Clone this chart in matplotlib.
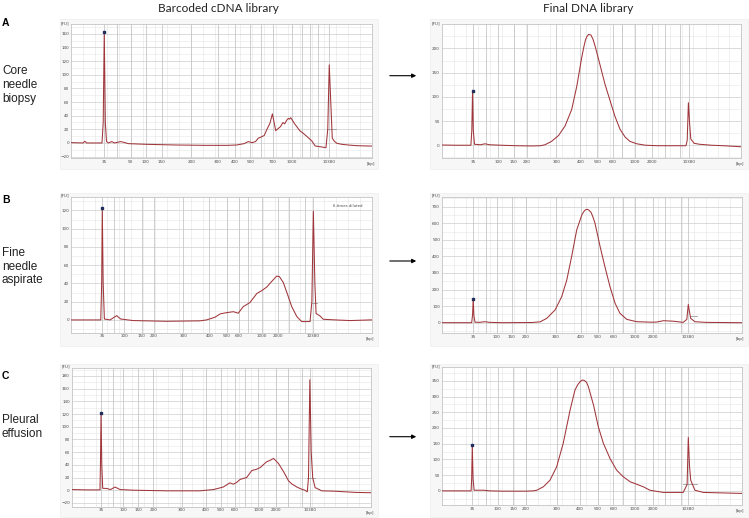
import matplotlib
matplotlib.use("Agg")
import matplotlib.pyplot as plt
from matplotlib.patches import Rectangle, FancyArrowPatch

W, H = 749, 518

# ---- data (x = migration, 0-100 across plot; y = FU) ----
LADDER_A = ["35", "50", "100", "150", "200", "300", "400", "500", "700", "1000", "10380"]
LADDER_BC = ["35", "100", "150", "200", "300", "400", "500", "600", "1000", "2000", "10380"]

CNB_CDNA_TICKS = [11.0, 19.8, 24.9, 30.1, 40.0, 48.8, 54.5, 59.6, 67.1, 73.4, 85.7]
CNB_LIB_TICKS = [10.5, 18.9, 24.1, 28.4, 38.3, 46.3, 51.9, 57.2, 64.4, 70.3, 82.5]
FNA_CDNA_TICKS = [10.4, 17.7, 23.5, 27.6, 37.4, 46.0, 51.8, 55.9, 63.4, 68.7, 80.6]
FNA_LIB_TICKS = [10.5, 18.3, 23.3, 28.0, 38.0, 46.4, 52.0, 57.2, 64.4, 70.5, 82.2]
PE_CDNA_TICKS = [9.8, 17.3, 22.3, 27.3, 36.7, 44.8, 49.7, 54.5, 62.3, 68.2, 79.5]
PE_LIB_TICKS = [10.2, 18.7, 23.9, 28.1, 38.3, 46.1, 52.0, 57.2, 64.4, 70.5, 82.2]

# unlabelled ladder peaks (75, 600/700, 2000/3000, 7000) -> darker grid lines
CNB_CDNA_EXTRA = [15.2, 63.1, 76.9, 79.5, 82.0]
CNB_LIB_EXTRA = [14.8, 60.3, 74.5, 79.6]
FNA_CDNA_EXTRA = [14.2, 59.0, 72.5, 77.8]
FNA_LIB_EXTRA = [14.8, 60.3, 74.5, 79.6]
PE_CDNA_EXTRA = [13.8, 57.8, 72.0, 76.8]
PE_LIB_EXTRA = [14.8, 60.3, 74.5, 79.6]

CNB_CDNA_X = [0, 4, 4.6, 5.2, 8, 10.3, 10.7, 11.05, 11.4, 11.8, 12.5, 13.5, 14.5, 16.5, 17.5,
              19, 25, 35, 45, 52, 55, 57.5, 58.9, 60.2, 61.3, 62.2, 63.3, 64.2, 65.0, 66.1,
              66.9, 67.4, 68.0, 68.8, 69.6, 70.4, 71.0, 71.6, 72.2, 72.6, 73.0, 73.6, 74.3,
              75.0, 76.0, 77.2, 78.5, 80.0, 81.1, 83.5, 84.7, 85.3, 85.8, 86.3, 86.8, 87.4,
              88.3, 90, 92.1, 95, 99.3, 100]
CNB_CDNA_Y = [0.5, 0, 2.5, 0, 0, 0, 30, 163, 30, 2, 0, 2, 0, 2, 1,
              -1, -2, -3, -3.5, -3.5, -3, -1, 2, 0.5, 2, 7, 9, 11, 19, 29,
              42.6, 32, 18, 21, 24, 30, 28, 33, 36, 35, 37, 33, 28,
              24, 18, 14, 9, 3, -4.4, -6, -7, 20, 114.5, 60, 7, 3,
              -0.5, -2, -3, -4, -4.5, -4.5]

CNB_LIB_X = [0, 5, 9.8, 10.1, 10.35, 10.6, 11.0, 13, 14.5, 16, 20, 25, 30, 33, 34.5, 36.7,
             39.0, 41.2, 43.4, 45.1, 46.7, 47.4, 48.0, 48.5, 49.0, 49.8, 50.5, 51.2, 52.8,
             54.5, 56.2, 57.8, 59.5, 61.2, 62.8, 65.1, 68, 72, 78, 81.5, 81.9, 82.3, 82.7,
             83.1, 84.2, 86, 90, 94, 99.5, 100]
CNB_LIB_Y = [0.5, 0, 0, 30, 112, 30, 2, 1, 3, 1, 0, -1, -1.5, -1, 1, 8,
             20, 40, 74, 122, 180, 202, 218, 225, 229, 228, 219, 205, 167,
             126, 92, 60, 33, 17, 8, 3, 0, -1, -1, -1, 10, 88, 45,
             13, 4, 2, 0, -1, -3, -3]

FNA_CDNA_X = [0, 5, 9.9, 10.2, 10.4, 10.7, 11.1, 13, 15.2, 16.5, 20.7, 31.8, 42.9, 45.1,
              47.9, 49.6, 51.8, 54.0, 55.0, 55.6, 57.3, 59.5, 61.8, 63.4, 65.1, 66.7, 68.4,
              69.3, 70.6, 71.9, 73.4, 75.1, 76.7, 79.5, 80.1, 80.6, 81.1, 81.5, 82.8, 83.9,
              88, 92.8, 99.4, 100]
FNA_CDNA_Y = [0, 0, 0, 40, 123, 40, 1, 0, 4.7, 1, -0.7, -1.5, -1, 0,
              3, 6.6, 8, 9, 8, 7.3, 14.6, 19, 29, 32, 36, 42, 48,
              47.5, 41, 29, 14.6, 3.7, -1.8, -1.8, 20, 119, 40, 7, 4.4, 0.7,
              0, -0.7, 0, 0]

FNA_LIB_X = [0, 5, 10.0, 10.3, 10.5, 10.75, 11.1, 12.5, 14.4, 16, 20, 30, 32.8, 35.0, 37.8,
             40.0, 41.7, 43.3, 45.0, 46.7, 47.4, 48.0, 48.5, 49.0, 49.8, 50.4, 51.1, 52.8,
             54.4, 56.1, 57.8, 59.4, 61.7, 65.0, 70, 71.7, 73.9, 77.2, 80.5, 81.7, 82.2,
             82.6, 83.0, 84.4, 88, 99.4, 100]
FNA_LIB_Y = [0, 0, 0, 50, 145, 40, 3, 2, 6, 2, 0, 1, 5, 26, 77,
             157, 258, 398, 559, 650, 671, 682, 684, 680, 665, 638, 600, 459,
             338, 217, 117, 57, 20, 6, 3, 4, 12, 9, 2, 20, 110,
             65, 26, 6, 2, 0, 0]

PE_CDNA_X = [0, 5, 9.5, 9.65, 9.85, 10.1, 10.4, 11.7, 13, 14.5, 16.2, 20.6, 31.7, 42.8, 47.3,
             50.6, 52.8, 53.9, 55.0, 56.2, 58.4, 60.1, 61.7, 63.0, 63.9, 65.1, 66.2, 67.3,
             67.8, 69.0, 70.2, 71.2, 72.3, 73.4, 75.1, 76.5, 77.8, 78.6, 79.0, 79.45, 79.9,
             80.4, 81.2, 81.7, 83.4, 87.3, 95, 99.8, 100]
PE_CDNA_Y = [1, 0.5, 0.5, 40, 122, 40, 3, 2.7, 1, 5, 1, 0, -1, -1, 1,
             5, 11.6, 9.5, 12, 17, 20, 31, 33, 36, 40, 45, 47, 50,
             48, 42, 33, 25, 15, 10, 5, 2, 0, -2.6, 20, 174, 60,
             20, 4, 3, -1, -1.5, -3.5, -4, -4]

PE_LIB_X = [0, 5, 9.8, 10.0, 10.2, 10.45, 10.8, 12, 13.9, 16, 20.5, 28, 30.5, 31.7, 33.9,
            36.1, 38.3, 40.5, 42.8, 44.4, 45.3, 46.1, 46.8, 47.4, 48.3, 48.9, 50.6, 52.2,
            53.9, 56.1, 58.3, 60.5, 62.8, 65.0, 67.2, 69.4, 73.9, 80.5, 81.8, 82.2, 82.6,
            83.0, 84.4, 87.2, 99.4, 100]
PE_LIB_Y = [0, 0, 0, 40, 145, 40, 2, 2, 2, 0, -1, -1, 0, 2, 13,
            34, 76, 151, 257, 320, 337, 347, 352, 352, 345, 331, 273, 204,
            151, 103, 66, 45, 29, 21, 13, 2, -5, -5, 20, 170, 80,
            34, 2, -5, -8, -8]

# short grey baseline markers drawn by the instrument at the upper marker
CNB_CDNA_MARK = ([84.9, 88.2], [20, 20])
FNA_CDNA_MARK = ([80.0, 81.9], [18, 18])
FNA_LIB_MARK = ([82.8, 85.0], [42, 42])
PE_CDNA_MARK = ([78.4, 81.2], [20, 20])
PE_LIB_MARK = ([80.4, 85.0], [21, 21])

TITLES = ["Barcoded cDNA library", "Final DNA library"]
ROW_LETTERS = ["A", "B", "C"]
ROW_NAMES = ["Core\nneedle\nbiopsy", "Fine\nneedle\naspirate", "Pleural\neffusion"]

TRACE = "#a0353a"
TXT = "#4a4a4a"


def frac(x0, y0, x1, y1):
    """pixel box (top-left origin) -> figure fraction rect"""
    return [x0 / W, 1 - y1 / H, (x1 - x0) / W, (y1 - y0) / H]


def draw_panel(fig, box, ylim, ystep, ticks, labels, extra, xs, ys, mark=None, note=None):
    ax = fig.add_axes(frac(*box))
    ax.set_facecolor("white")
    ax.set_xlim(0, 100)
    ax.set_ylim(*ylim)

    # grid: regular light lines + darker lines at the ladder peaks
    for gx in range(4, 100, 4):
        ax.axvline(gx, color="#e3e3e3", lw=0.4, zorder=0)
    for gx in list(ticks) + list(extra):
        ax.axvline(gx, color="#c2c2c2", lw=0.55, zorder=0.5)
    y = 0
    while y > ylim[0]:
        y -= ystep / 2
    while y < ylim[1]:
        major = abs(round(y / ystep) * ystep - y) < 1e-6
        ax.axhline(y, color="#cdcdcd" if major else "#e6e6e6", lw=0.5 if major else 0.4, zorder=0)
        y += ystep / 2

    ax.plot(xs, ys, color=TRACE, lw=0.75, zorder=3, solid_joinstyle="round")
    # lower marker peak flag
    i35 = ys.index(max(ys[:12]))
    ax.plot([xs[i35]], [ys[i35]], marker="s", ms=1.5, color="#1f2d5c", zorder=4)
    if mark:
        ax.plot(mark[0], mark[1], color="#9a9a9a", lw=0.6, zorder=2)
    if note:
        ax.text(0.97, 0.93, note, transform=ax.transAxes, ha="right", va="center",
                fontsize=2.8, color=TXT)

    ax.set_xticks(ticks)
    ax.set_xticklabels(labels)
    yt = [v for v in range(-1000, 1000, ystep) if ylim[0] <= v <= ylim[1] - ystep * 0.05]
    ax.set_yticks(yt)
    ax.tick_params(length=0, labelsize=3, labelcolor=TXT, pad=1.2)
    for s in ax.spines.values():
        s.set_color("#c4c4c4")
        s.set_linewidth(0.6)
    ax.text(-0.005, 1.01, "[FU]", transform=ax.transAxes, ha="right", va="center",
            fontsize=3, color=TXT)
    ax.text(0.995, -0.045, "[bp]", transform=ax.transAxes, ha="center", va="center",
            fontsize=3, color=TXT)
    return ax


def main():
    fig = plt.figure(figsize=(W / 100, H / 100), dpi=100)
    fig.patch.set_facecolor("white")

    # light panel frames
    for (y0, y1) in [(19, 169), (193, 346), (364, 517)]:
        for (x0, x1) in [(60, 378), (430, 748)]:
            fig.add_artist(Rectangle((x0 / W, 1 - y1 / H), (x1 - x0) / W, (y1 - y0) / H,
                                     transform=fig.transFigure, facecolor="#f7f7f7",
                                     edgecolor="#eeeeee", lw=0.5, zorder=0))

    draw_panel(fig, (71, 24.3, 372, 158.3), (-22.5, 174), 20, CNB_CDNA_TICKS, LADDER_A,
               CNB_CDNA_EXTRA, CNB_CDNA_X, CNB_CDNA_Y, CNB_CDNA_MARK)
    draw_panel(fig, (441.5, 24.3, 741.5, 158.3), (-27, 250), 50, CNB_LIB_TICKS, LADDER_BC,
               CNB_LIB_EXTRA, CNB_LIB_X, CNB_LIB_Y)
    draw_panel(fig, (71, 196.7, 371.7, 332.7), (-14, 135), 20, FNA_CDNA_TICKS, LADDER_BC,
               FNA_CDNA_EXTRA, FNA_CDNA_X, FNA_CDNA_Y, FNA_CDNA_MARK, note="6-times diluted")
    draw_panel(fig, (441.7, 196.7, 741.7, 333.3), (-64, 760), 100, FNA_LIB_TICKS, LADDER_BC,
               FNA_LIB_EXTRA, FNA_LIB_X, FNA_LIB_Y, FNA_LIB_MARK)
    draw_panel(fig, (71.5, 367.7, 371.5, 506.7), (-26, 193), 20, PE_CDNA_TICKS, LADDER_BC,
               PE_CDNA_EXTRA, PE_CDNA_X, PE_CDNA_Y, PE_CDNA_MARK)
    draw_panel(fig, (441.7, 367.3, 741.7, 505), (-45, 393), 50, PE_LIB_TICKS, LADDER_BC,
               PE_LIB_EXTRA, PE_LIB_X, PE_LIB_Y, PE_LIB_MARK)

    # column titles
    for cx, t in zip([218, 588], TITLES):
        fig.text(cx / W, 1 - 9 / H, t, ha="center", va="center", fontsize=8.5,
                 family="Lato", color="#222222")

    # row letters, names, arrows
    for letter, name, ly, ny, ay in zip(ROW_LETTERS, ROW_NAMES, [23, 199.7, 376.3],
                                        [85, 266.7, 426.7], [75.7, 261, 436.7]):
        fig.text(2 / W, 1 - ly / H, letter, ha="left", va="center", fontsize=7.5,
                 fontweight="bold", family="Liberation Sans")
        fig.text(2 / W, 1 - ny / H, name, ha="left", va="center", fontsize=8.5,
                 family="Liberation Sans", linespacing=1.2, color="#222222")
        fig.add_artist(FancyArrowPatch((387 / W, 1 - ay / H), (419 / W, 1 - ay / H),
                                       transform=fig.transFigure, arrowstyle="-|>",
                                       mutation_scale=6, lw=0.8, color="black"))

    fig.savefig("out.png", dpi=100)
    plt.close(fig)


if __name__ == "__main__":
    main()
